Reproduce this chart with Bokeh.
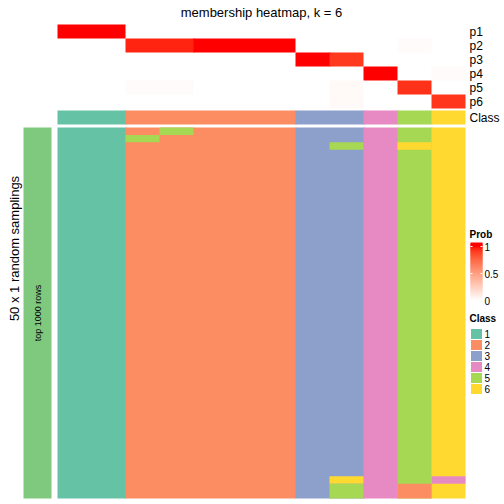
import numpy as np
from bokeh.plotting import figure
from bokeh.models import Range1d
from bokeh.core.properties import value
from bokeh.embed import file_html
from bokeh.resources import INLINE

# ---------------- data ----------------
columns_class = [1, 1, 2, 2, 2, 2, 2, 3, 3, 4, 5, 6]
prob_labels = ["p1", "p2", "p3", "p4", "p5", "p6"]
p1 = [1, 1, 0, 0, 0, 0, 0, 0, 0, 0, 0, 0]
p2 = [0, 0, 0.96, 0.96, 1, 1, 1, 0, 0, 0, 0.02, 0]
p3 = [0, 0, 0, 0, 0, 0, 0, 1, 0.91, 0, 0, 0]
p4 = [0, 0, 0, 0, 0, 0, 0, 0, 0, 1, 0, 0.02]
p5 = [0, 0, 0.02, 0.02, 0, 0, 0, 0, 0.03, 0, 0.93, 0]
p6 = [0, 0, 0, 0, 0, 0, 0, 0, 0.03, 0, 0, 0.92]
n_samplings = 50
# samplings whose class differs from the consensus class of the column
diff_row = [0, 1, 2, 2, 47, 47, 48, 48, 49, 49]
diff_col = [3, 2, 8, 10, 8, 11, 8, 10, 8, 10]
diff_class = [5, 5, 5, 6, 6, 4, 5, 2, 5, 2]
class_labels = ["1", "2", "3", "4", "5", "6"]
class_colors = ["#66C2A5", "#FC8D62", "#8DA0CB", "#E78AC3", "#A6D854", "#FFD92F"]
prob_ticks = [0, 0.5, 1]
left_bar_color = "#7FC97F"

# ---------------- layout (pixels, image coordinates) ----------------
HX0, CW = 57, 34
TOP_Y0, TOP_RH = 24, 14
CLS_Y0, CLS_H = 110, 14
LOW_Y0, LOW_Y1 = 127, 498
LB_X0, LB_X1 = 23, 51
FONT = "Liberation Sans"
NCOL = len(columns_class)


def _lin(c):
    c = np.asarray(c, float) / 255
    return np.where(c <= 0.04045, c / 12.92, ((c + 0.055) / 1.055) ** 2.4)


def _delin(c):
    c = np.where(c <= 0.0031308, 12.92 * c, 1.055 * np.clip(c, 0, None) ** (1 / 2.4) - 0.055)
    return np.clip(np.round(c * 255), 0, 255).astype(int)


M = np.array([[0.4124, 0.3576, 0.1805], [0.2126, 0.7152, 0.0722], [0.0193, 0.1192, 0.9505]])
WP = np.array([0.95047, 1.0, 1.08883])


def rgb2lab(rgb):
    xyz = M @ _lin(rgb) / WP
    f = np.where(xyz > 0.008856, np.cbrt(xyz), 7.787 * xyz + 16 / 116)
    return np.array([116 * f[1] - 16, 500 * (f[0] - f[1]), 200 * (f[1] - f[2])])


def lab2rgb(lab):
    fy = (lab[0] + 16) / 116
    fx = fy + lab[1] / 500
    fz = fy - lab[2] / 200
    f = np.array([fx, fy, fz])
    xyz = np.where(f ** 3 > 0.008856, f ** 3, (f - 16 / 116) / 7.787) * WP
    return _delin(np.linalg.inv(M) @ xyz)


LAB_W = rgb2lab([255, 255, 255])
LAB_R = rgb2lab([255, 0, 0])


def prob_color(v):
    r, g, b = lab2rgb(LAB_W + (LAB_R - LAB_W) * v)
    return "#%02x%02x%02x" % (r, g, b)


def runs(seq):
    """contiguous runs of equal values: (start, end, value)"""
    out, s = [], 0
    for i in range(1, len(seq) + 1):
        if i == len(seq) or seq[i] != seq[s]:
            out.append((s, i, seq[s]))
            s = i
    return out


def right_edge(e, nxt_nonwhite=True):
    # overlap the next block by 1px to avoid anti-aliasing seams
    return HX0 + e * CW + (1 if (e < NCOL and nxt_nonwhite) else 0)


p = figure(width=504, height=504, x_range=Range1d(0, 504), y_range=Range1d(504, 0),
           output_backend="svg", toolbar_location=None, min_border=0,
           x_axis_location=None, y_axis_location=None)
p.outline_line_color = None
p.grid.visible = False
p.background_fill_color = "white"
p.border_fill_color = "white"

# ---- top probability heatmap (horizontal runs of equal value per row) ----
probs = [p1, p2, p3, p4, p5, p6]
L, R, T, B, C = [], [], [], [], []
for i, row in enumerate(probs):
    for s, e, v in runs(row):
        if v == 0:
            continue
        nxt = e < NCOL and row[e] != 0
        L.append(HX0 + s * CW); R.append(right_edge(e, nxt))
        T.append(TOP_Y0 + i * TOP_RH); B.append(TOP_Y0 + (i + 1) * TOP_RH)
        C.append(prob_color(v))
p.quad(left=L, right=R, top=T, bottom=B, fill_color=C, line_color=None)

# ---- class annotation row ----
L, R, C = [], [], []
for s, e, c in runs(columns_class):
    L.append(HX0 + s * CW); R.append(right_edge(e)); C.append(class_colors[c - 1])
p.quad(left=L, right=R, top=CLS_Y0, bottom=CLS_Y0 + CLS_H, fill_color=C, line_color=None)

# ---- sampling heatmap ----
mat = [list(columns_class) for _ in range(n_samplings)]
for r_, c_, k_ in zip(diff_row, diff_col, diff_class):
    mat[r_][c_] = k_
rh = (LOW_Y1 - LOW_Y0) / n_samplings
# consensus blocks
p.quad(left=L, right=R, top=LOW_Y0, bottom=LOW_Y1, fill_color=C, line_color=None)
# samplings differing from consensus
L2, R2, T2, B2, C2 = [], [], [], [], []
for j in range(NCOL):
    colvals = [mat[i][j] for i in range(n_samplings)]
    for s, e, k in runs(colvals):
        if k == columns_class[j]:
            continue
        L2.append(HX0 + j * CW); R2.append(HX0 + (j + 1) * CW)
        T2.append(LOW_Y0 + s * rh); B2.append(LOW_Y0 + e * rh)
        C2.append(class_colors[k - 1])
p.quad(left=L2, right=R2, top=T2, bottom=B2, fill_color=C2, line_color=None)

# left annotation bar
p.quad(left=[LB_X0], right=[LB_X1], top=[LOW_Y0], bottom=[LOW_Y1], fill_color=left_bar_color, line_color=None)
p.text(x=[(LB_X0 + LB_X1) / 2], y=[(LOW_Y0 + LOW_Y1) / 2], text=["top 1000 rows"], angle=np.pi / 2,
       text_align="center", text_baseline="middle", text_font=value(FONT), text_font_size="9px", text_color="black")
p.text(x=[13.5], y=[248], text=["50 x 1 random samplings"], angle=np.pi / 2,
       text_align="center", text_baseline="middle", text_font=value(FONT), text_font_size="13px", text_color="black")

# title
p.text(x=[HX0 + CW * NCOL / 2], y=[12], text=["membership heatmap, k = 6"],
       text_align="center", text_baseline="middle", text_font=value(FONT), text_font_size="13px", text_color="black")

# row labels
lx = HX0 + CW * NCOL + 4
p.text(x=[lx] * 7, y=[TOP_Y0 + (i + 0.5) * TOP_RH for i in range(6)] + [CLS_Y0 + CLS_H / 2],
       text=prob_labels + ["Class"], text_align="left", text_baseline="middle",
       text_font=value(FONT), text_font_size="12px", text_color="black")

# ---- Prob legend ----
p.text(x=[469], y=[234], text=["Prob"], text_align="left", text_baseline="middle",
       text_font=value(FONT), text_font_size="10px", text_font_style="bold", text_color="black")
CB_X0, CB_X1, CB_Y_0, CB_Y_1 = 470, 482, 300, 246
ys = np.arange(242, 302)
vals = np.clip((CB_Y_0 - (ys + 0.5)) / (CB_Y_0 - CB_Y_1), 0, 1)
bots = np.minimum(ys + 2, 302)
p.quad(left=CB_X0, right=CB_X1, top=ys, bottom=bots, fill_color=[prob_color(v) for v in vals], line_color=None)
tick_y = [CB_Y_0 - t * (CB_Y_0 - CB_Y_1) for t in prob_ticks]
for t, ty in zip(prob_ticks, tick_y):
    if t > 0:
        p.segment(x0=[CB_X0, CB_X1 - 2], x1=[CB_X0 + 2, CB_X1], y0=[ty, ty], y1=[ty, ty], line_color="white", line_width=1)
p.text(x=[484] * 3, y=tick_y, text=[("%g" % t) for t in prob_ticks], text_align="left", text_baseline="middle",
       text_font=value(FONT), text_font_size="10px", text_color="black")

# ---- Class legend ----
p.text(x=[469], y=[318], text=["Class"], text_align="left", text_baseline="middle",
       text_font=value(FONT), text_font_size="10px", text_font_style="bold", text_color="black")
bh = 11
ky = [328 + k * bh for k in range(len(class_labels))]
p.quad(left=CB_X0, right=CB_X1, top=ky, bottom=[y + bh for y in ky], fill_color=class_colors,
       line_color="white", line_width=1)
p.text(x=[484] * len(class_labels), y=[y + bh / 2 for y in ky], text=class_labels, text_align="left",
       text_baseline="middle", text_font=value(FONT), text_font_size="10px", text_color="black")

open("out.html", "w").write(file_html(p, INLINE))
